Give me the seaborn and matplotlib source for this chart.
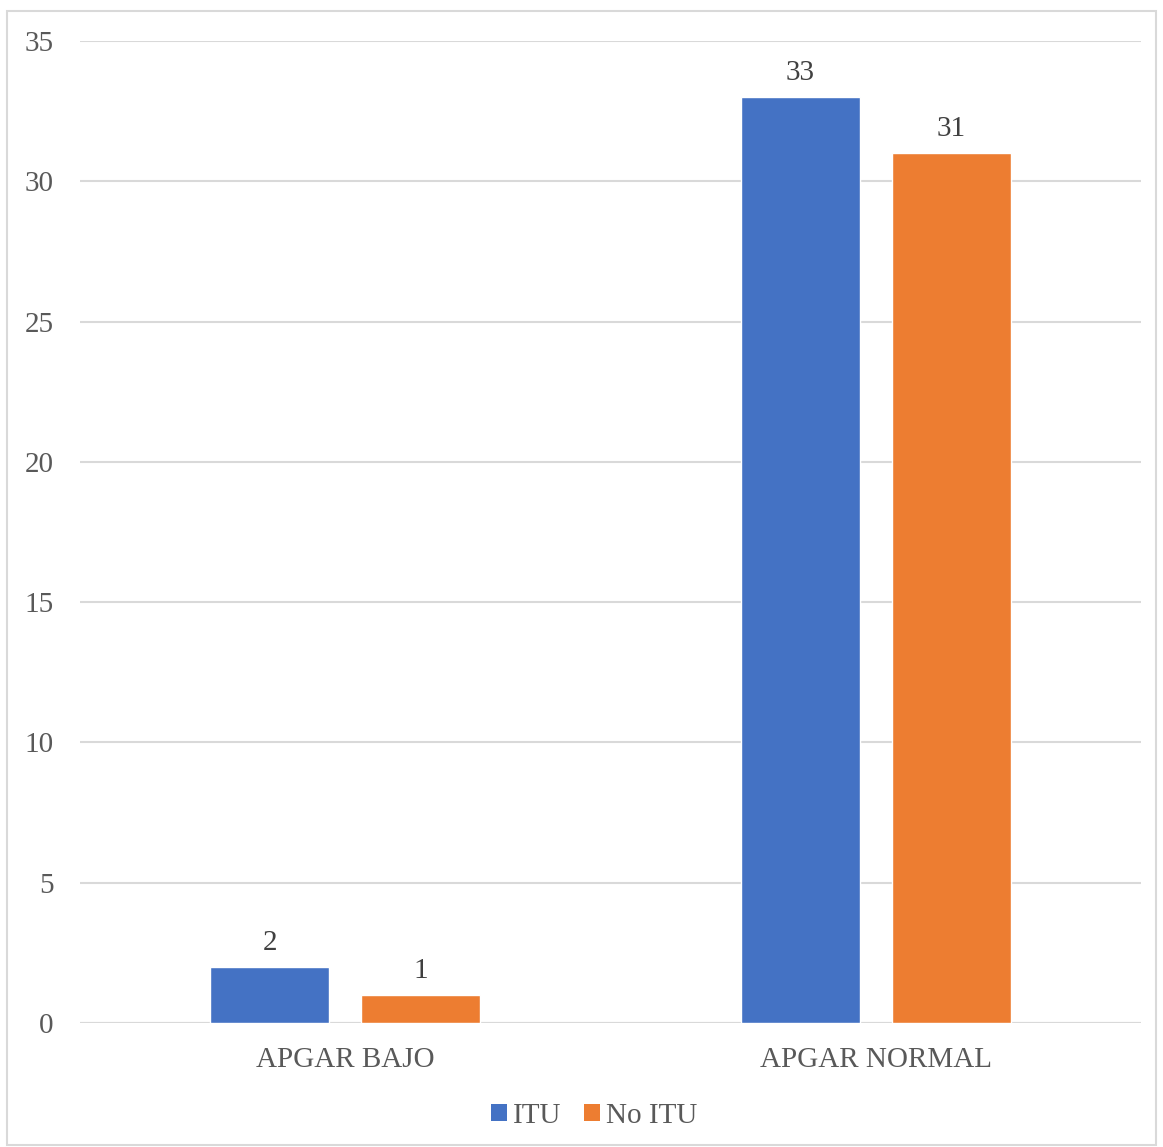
import matplotlib
matplotlib.use("Agg")
import matplotlib.pyplot as plt
import seaborn as sns
import pandas as pd
from matplotlib.patches import Rectangle, Patch

categories = ["APGAR BAJO", "APGAR NORMAL"]
series = ["ITU", "No ITU"]
itu_values = [2, 33]
no_itu_values = [1, 31]
yticks = [0, 5, 10, 15, 20, 25, 30, 35]
colors = ["#4472C4", "#ED7D31"]

df = pd.DataFrame({
    "cat": categories * 2,
    "serie": [series[0]] * 2 + [series[1]] * 2,
    "val": itu_values + no_itu_values,
})

sns.set_theme(style="white")
plt.rcParams["font.family"] = ["Liberation Serif", "DejaVu Serif"]

W, H = 1163, 1147
fig = plt.figure(figsize=(W / 100, H / 100), dpi=100)
ax = fig.add_axes([80 / W, 1 - 1023 / H, (1141 - 80) / W, (1023 - 41) / H])

sns.barplot(data=df, x="cat", y="val", hue="serie", hue_order=series,
            palette=colors, width=0.57, gap=0.214, saturation=1,
            legend=False, ax=ax)

for cont in ax.containers:
    ax.bar_label(cont, fmt="%g", padding=8, fontsize=21, color="#404040")

ax.set_ylim(0, 35)
ax.set_xlim(-0.5, 1.5)
ax.set_yticks(yticks)
ax.set_yticklabels([str(t) for t in yticks])
ax.yaxis.grid(True, color="#D9D9D9", linewidth=1.5)
ax.set_axisbelow(True)
for s in ax.spines.values():
    s.set_visible(False)
ax.axhline(0, color="#D9D9D9", linewidth=1.5, zorder=0.5)
ax.tick_params(axis="y", length=0, pad=19, labelsize=21, labelcolor="#595959")
ax.tick_params(axis="x", length=0, pad=17.5, labelsize=21, labelcolor="#595959")
ax.set_xlabel("")
ax.set_ylabel("")

handles = [Patch(facecolor=c, edgecolor="none") for c in colors]
fig.legend(handles, series, loc="center", bbox_to_anchor=(594 / W, 1 - 1116 / H),
           ncol=2, frameon=False, fontsize=21, labelcolor="#595959",
           handlelength=0.55, handleheight=0.55, handletextpad=0.2,
           columnspacing=0.8)

fig.patches.append(Rectangle((7 / W, 2 / H), (1156 - 7) / W, 1 - 11 / H - 2 / H,
                             transform=fig.transFigure, fill=False,
                             edgecolor="#D9D9D9", linewidth=1.5))

fig.savefig("out.png", dpi=100)
